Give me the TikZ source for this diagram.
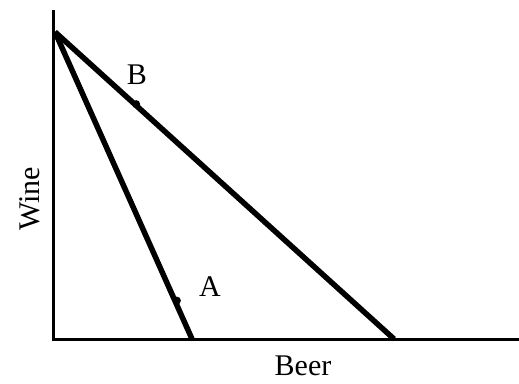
\documentclass[tikz,border=0pt]{standalone}
\usepackage{fontspec}
\setmainfont{Liberation Serif}
\usetikzlibrary{positioning, calc}

\begin{document}
\begin{tikzpicture}[
  x=1pt, y=-1pt,
  axis/.style={draw=black, line width=3pt},
  budget/.style={draw=black, line width=5.5pt},
  dot/.style={circle, fill=black, inner sep=0pt, minimum size=8pt},
  lbl/.style={font=\fontsize{30}{30}\selectfont, inner sep=0pt}
]
  \useasboundingbox (0,0) rectangle (519,383);

  % Axes
  \coordinate (top) at (53,10);
  \coordinate (origin) at (53,339);
  \coordinate (right) at (519,339);
  \draw[axis] (top) -- (origin) -- (right);

  % Budget lines
  \coordinate (apex) at (55,32);
  \coordinate (endA) at (192,339);
  \coordinate (endB) at (394,339);
  \draw[budget] (apex) -- (endA);
  \draw[budget] (apex) -- (endB);

  % Points on the lines
  \node[dot, xshift=1.5pt] (ptB) at ($(apex)!0.235!(endB)$) {};
  \node[dot, xshift=2pt] (ptA) at ($(apex)!0.875!(endA)$) {};
  \node[lbl] (labB) at (137,75) {B};
  \node[lbl] (labA) at (210,287) {A};

  % Axis titles
  \node[lbl, rotate=90] (wine) at (30,199) {Wine};
  \node[lbl] (beer) at (303,366) {Beer};

\end{tikzpicture}
\end{document}
